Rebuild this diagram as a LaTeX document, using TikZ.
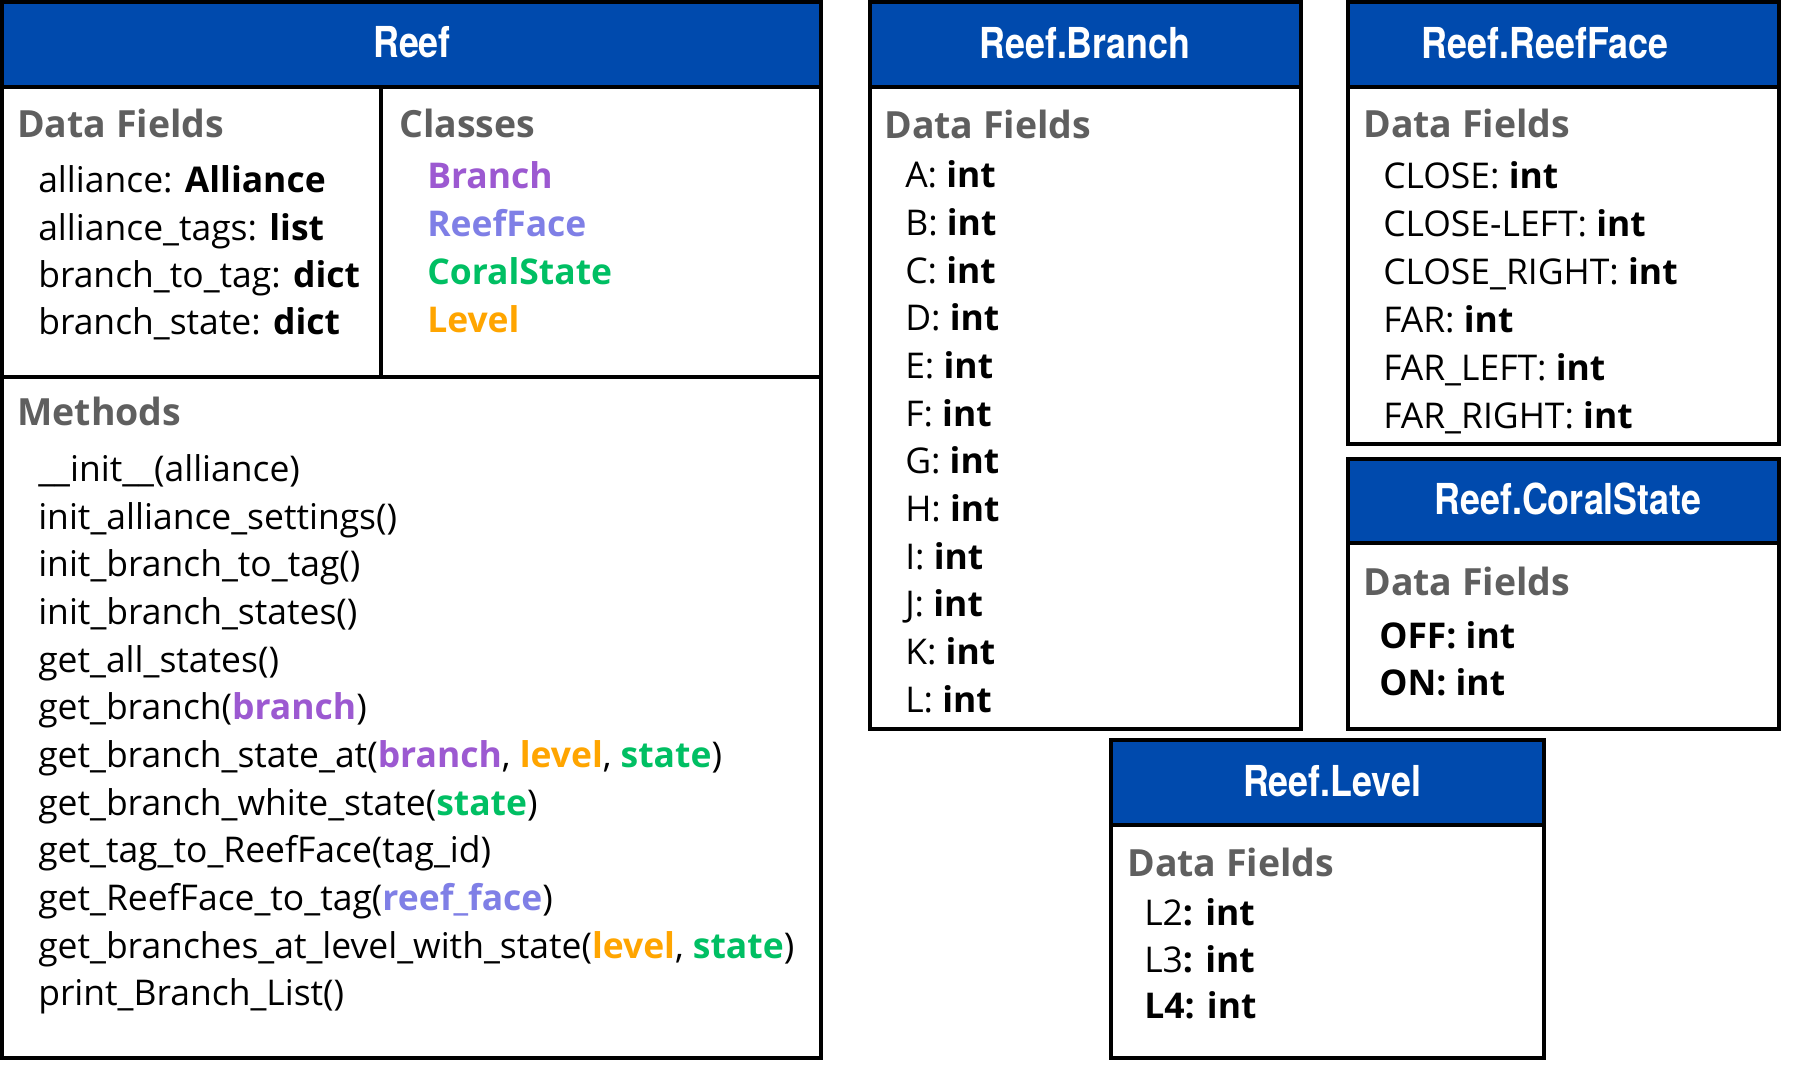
\documentclass[tikz,border=0pt]{standalone}
\usepackage{fontspec}
\setmainfont{Open Sans}
\newfontfamily\titlefont[FakeStretch=0.84]{TeX Gyre Heros}
\definecolor{hdrblue}{HTML}{004AAD}
\definecolor{secgray}{HTML}{5F5F5F}
\definecolor{cpurple}{HTML}{9C59D1}
\definecolor{clav}{HTML}{7F7FE6}
\definecolor{cgreen}{HTML}{00BF63}
\definecolor{corange}{HTML}{FFA500}
\newcommand{\cb}[2]{\textcolor{#1}{\textbf{#2}}}
\begin{document}
\begin{tikzpicture}[x=0.75pt,y=-0.75pt,
  frame/.style={draw=black,line width=3pt,line join=miter},
  hdr/.style={fill=hdrblue},
  ttl/.style={anchor=base,inner sep=0pt,text=white,font=\titlefont\bfseries\fontsize{32pt}{36pt}\selectfont},
  sec/.style={anchor=base west,inner sep=0pt,text=secgray,font=\bfseries\fontsize{28.1pt}{32pt}\selectfont},
  item/.style={anchor=base west,inner sep=0pt,font=\fontsize{26.6pt}{32pt}\selectfont}]
\fill[white] (0,0) rectangle (1793,1080);
\useasboundingbox (0,0) rectangle (1793,1080);

% ---------- Reef ----------
\fill[hdr] (2,2) rectangle (821,87);
\draw[frame] (2,2) rectangle (821,1058);
\draw[frame] (2,87) -- (821,87);
\draw[frame] (381,87) -- (381,377);
\draw[frame] (2,377) -- (821,377);
\node[ttl] (reefT) at (412,57.5) {Reef};
\node[sec] (reefDF) at (17,138) {Data Fields};
\node[item] (rf1) at (38,193) {alliance: \textbf{Alliance}};
\node[item] (rf2) at (38,240.3) {alliance\_tags: \textbf{list}};
\node[item] (rf3) at (38,287.6) {branch\_to\_tag: \textbf{dict}};
\node[item] (rf4) at (38,335) {branch\_state: \textbf{dict}};
\node[sec] (reefCL) at (399,138) {Classes};
\node[item] (rc1) at (427,188.5) {\cb{cpurple}{Branch}};
\node[item] (rc2) at (427,236.5) {\cb{clav}{ReefFace}};
\node[item] (rc3) at (427,284.5) {\cb{cgreen}{CoralState}};
\node[item] (rc4) at (427,332.5) {\cb{corange}{Level}};
\node[sec] (reefME) at (17,426) {Methods};
\node[item] (m1) at (38,481.6) {\_\_init\_\_(alliance)};
\node[item] (m2) at (38,529.3) {init\_alliance\_settings()};
\node[item] (m3) at (38,576.9) {init\_branch\_to\_tag()};
\node[item] (m4) at (38,624.6) {init\_branch\_states()};
\node[item] (m5) at (38,672.2) {get\_all\_states()};
\node[item] (m6) at (38,719.9) {get\_branch(\cb{cpurple}{branch})};
\node[item] (m7) at (38,767.5) {get\_branch\_state\_at(\cb{cpurple}{branch}, \cb{corange}{level}, \cb{cgreen}{state})};
\node[item] (m8) at (38,815.2) {get\_branch\_white\_state(\cb{cgreen}{state})};
\node[item] (m9) at (38,862.8) {get\_tag\_to\_ReefFace(tag\_id)};
\node[item] (m10) at (38,910.5) {get\_ReefFace\_to\_tag(\cb{clav}{reef\_face})};
\node[item] (m11) at (38,958.1) {get\_branches\_at\_level\_with\_state(\cb{corange}{level}, \cb{cgreen}{state})};
\node[item] (m12) at (38,1005.8) {print\_Branch\_List()};

% ---------- Reef.Branch ----------
\fill[hdr] (870,2) rectangle (1301,87);
\draw[frame] (870,2) rectangle (1301,729);
\draw[frame] (870,87) -- (1301,87);
\node[ttl] (brT) at (1085,58.5) {Reef.Branch};
\node[sec] (brDF) at (884,139) {Data Fields};
\node[item] (b1) at (905,188) {A: \textbf{int}};
\node[item] (b2) at (905,235.65) {B: \textbf{int}};
\node[item] (b3) at (905,283.3) {C: \textbf{int}};
\node[item] (b4) at (905,330.95) {D: \textbf{int}};
\node[item] (b5) at (905,378.6) {E: \textbf{int}};
\node[item] (b6) at (905,426.25) {F: \textbf{int}};
\node[item] (b7) at (905,473.9) {G: \textbf{int}};
\node[item] (b8) at (905,521.55) {H: \textbf{int}};
\node[item] (b9) at (905,569.2) {I: \textbf{int}};
\node[item] (b10) at (905,616.85) {J: \textbf{int}};
\node[item] (b11) at (905,664.5) {K: \textbf{int}};
\node[item] (b12) at (905,712.15) {L: \textbf{int}};

% ---------- Reef.ReefFace ----------
\fill[hdr] (1348,2) rectangle (1779,87);
\draw[frame] (1348,2) rectangle (1779,444);
\draw[frame] (1348,87) -- (1779,87);
\node[ttl] (rfT) at (1545,59) {Reef.ReefFace};
\node[sec] (rfDF) at (1363,138) {Data Fields};
\node[item] (f1) at (1383,188.3) {CLOSE: \textbf{int}};
\node[item] (f2) at (1383,236.3) {CLOSE-LEFT: \textbf{int}};
\node[item] (f3) at (1383,284.3) {CLOSE\_RIGHT: \textbf{int}};
\node[item] (f4) at (1383,332.3) {FAR: \textbf{int}};
\node[item] (f5) at (1383,380.3) {FAR\_LEFT: \textbf{int}};
\node[item] (f6) at (1383,428.3) {FAR\_RIGHT: \textbf{int}};

% ---------- Reef.CoralState ----------
\fill[hdr] (1348,459) rectangle (1779,543);
\draw[frame] (1348,459) rectangle (1779,729);
\draw[frame] (1348,543) -- (1779,543);
\node[ttl] (csT) at (1568,515) {Reef.CoralState};
\node[sec] (csDF) at (1363,595) {Data Fields};
\node[item] (c1) at (1379,648.5) {\textbf{OFF: int}};
\node[item] (c2) at (1379,695.6) {\textbf{ON: int}};

% ---------- Reef.Level ----------
\fill[hdr] (1111,740) rectangle (1544,825);
\draw[frame] (1111,740) rectangle (1544,1058);
\draw[frame] (1111,825) -- (1544,825);
\node[ttl] (lvT) at (1332,796) {Reef.Level};
\node[sec] (lvDF) at (1127,876) {Data Fields};
\node[item] (l1) at (1144,925) {L2\textbf{: int}};
\node[item] (l2) at (1144,972) {L3\textbf{: int}};
\node[item] (l3) at (1144,1018) {\textbf{L4: int}};
\end{tikzpicture}
\end{document}
